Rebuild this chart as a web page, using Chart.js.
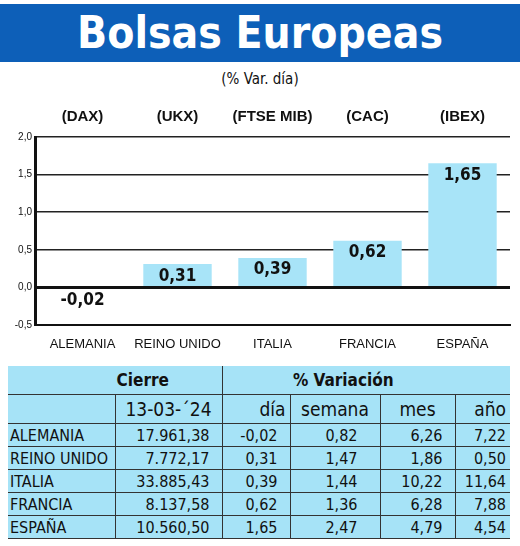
<!DOCTYPE html>
<html><head><meta charset="utf-8">
<script src="https://cdn.jsdelivr.net/npm/chart.js@4"></script>
<style>
body{margin:0;width:520px;height:546px;background:#fff;font-family:"DejaVu Sans Condensed","DejaVu Sans",sans-serif;position:relative;overflow:hidden}
#banner{position:absolute;left:0;top:4px;width:520px;height:58px;background:#0d5fb8;color:#fff;font:bold 44px "DejaVu Sans Condensed",sans-serif;text-align:center;line-height:58px;letter-spacing:0px}
#sub{position:absolute;left:0;top:70px;width:520px;text-align:center;font-size:15px;color:#111}
#cw{position:absolute;left:0;top:100px;width:520px;height:252px}
table{position:absolute;left:8px;top:366px;width:502px;border-collapse:collapse;background:#a6e3f7;font-size:16px;color:#111}
td{padding:0 4px;border-bottom:1px solid #333;text-align:right;height:22px;white-space:nowrap}
td.n{text-align:left;padding-left:2px}
tr.h td{height:28px;font-size:17px}
</style></head><body>
<div id="banner">Bolsas Europeas</div>
<div id="sub">(% Var. día)</div>
<div id="cw"><canvas id="c"></canvas></div>
<table id="t"></table>
<script>
const categories=["ALEMANIA","REINO UNIDO","ITALIA","FRANCIA","ESPAÑA"];
const indices=["(DAX)","(UKX)","(FTSE MIB)","(CAC)","(IBEX)"];
const dayChange=[-0.02,0.31,0.39,0.62,1.65];
const cierre=["17.961,38","7.772,17","33.885,43","8.137,58","10.560,50"];
const dia=["-0,02","0,31","0,39","0,62","1,65"];
const semana=["0,82","1,47","1,44","1,36","2,47"];
const mes=["6,26","1,86","10,22","6,28","4,79"];
const anio=["7,22","0,50","11,64","7,88","4,54"];

const t=document.getElementById('t');
let h='<colgroup><col style="width:107px"><col style="width:107px"><col style="width:68px"><col style="width:90px"><col style="width:75px"><col style="width:55px"></colgroup>';
h+='<tr class="h"><td colspan="2" style="text-align:center;font-weight:bold;border-right:1px solid #333;padding-left:60px">Cierre</td><td colspan="4" style="text-align:center;font-weight:bold;padding-right:50px">% Variación</td></tr>';
h+='<tr class="h"><td style="border-right:1px solid #333"></td><td style="border-right:1px solid #333;text-align:center;font-size:19px">13-03-´24</td><td style="border-right:1px solid #333;font-size:19px">día</td><td style="border-right:1px solid #333;text-align:center;font-size:19px">semana</td><td style="border-right:1px solid #333;text-align:center;font-size:19px">mes</td><td style="font-size:19px">año</td></tr>';
categories.forEach((c,i)=>{h+=`<tr><td class="n" style="border-right:1px solid #333">${c}</td><td style="border-right:1px solid #333;padding-right:12px">${cierre[i]}</td><td style="border-right:1px solid #333;padding-right:12px">${dia[i]}</td><td style="border-right:1px solid #333;padding-right:22px">${semana[i]}</td><td style="border-right:1px solid #333;padding-right:12px">${mes[i]}</td><td>${anio[i]}</td></tr>`;});
t.innerHTML=h;

const labelPlugin={id:'lbl',afterDatasetsDraw(ch){
  const ctx=ch.ctx,meta=ch.getDatasetMeta(0);
  ctx.save();ctx.font='bold 17px "DejaVu Sans Condensed",sans-serif';ctx.fillStyle='#111';ctx.textAlign='center';
  meta.data.forEach((b,i)=>{const v=dayChange[i];const s=v.toFixed(2).replace('.',',');
    if(v<0){ctx.textBaseline='top';ctx.fillText(s,b.x,b.base+3);}else{ctx.textBaseline='middle';ctx.fillText(s,b.x,b.y+12);}});
  ctx.restore();}};
new Chart(document.getElementById('c'),{type:'bar',
 data:{labels:categories,datasets:[{data:dayChange,backgroundColor:'#a8e4f8',borderWidth:0,categoryPercentage:0.72,barPercentage:1}]},
 options:{responsive:true,maintainAspectRatio:false,animation:false,
  layout:{padding:{left:0,right:10,top:0,bottom:0}},
  plugins:{legend:{display:false},tooltip:{enabled:false}},
  scales:{
   y:{min:-0.5,max:2.0,ticks:{stepSize:0.5,color:'#111',font:{size:10},callback:v=>v.toFixed(1).replace('.',',')},
      grid:{color:c=>c.tick&&c.tick.value===0?'#111':'#222',lineWidth:c=>c.tick&&c.tick.value===0?3:1.5,drawTicks:false},border:{color:'#111',width:3},afterFit:a=>{a.width=35;}},
   x:{ticks:{color:'#111',font:{size:13},maxRotation:0,minRotation:0,autoSkip:false,padding:4},grid:{display:false},border:{color:'#111',width:2},afterFit:a=>{a.height=27;}},
   x2:{position:'top',labels:indices,ticks:{color:'#111',font:{size:15,weight:'bold'}},grid:{display:false},border:{display:false},afterFit:a=>{a.height=37;}}
  }},
 plugins:[labelPlugin]});
</script></body></html>
